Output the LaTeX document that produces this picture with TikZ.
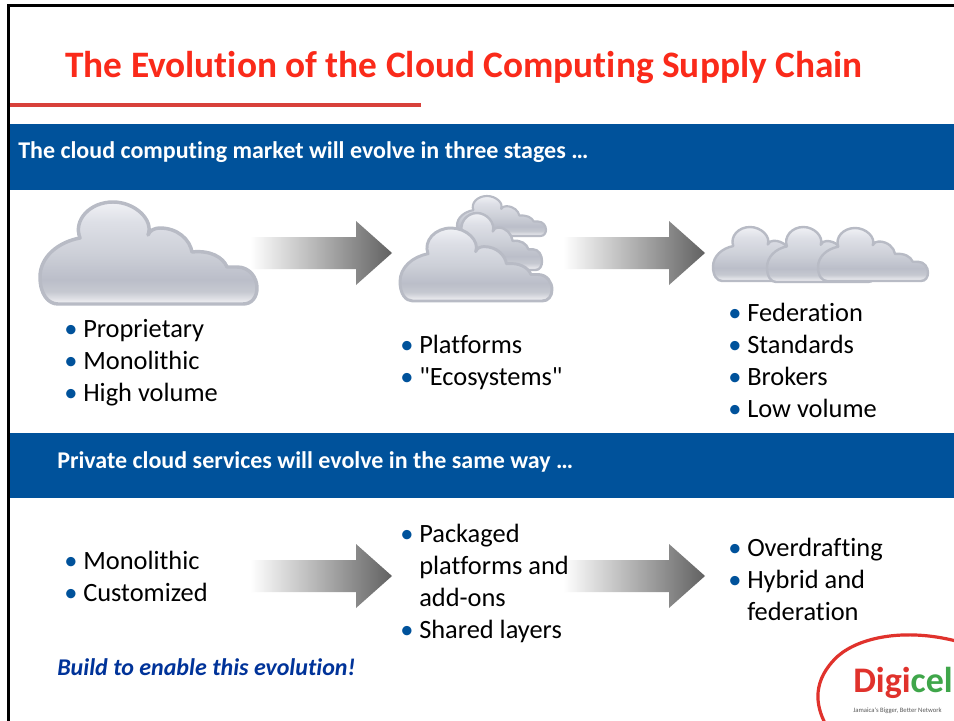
\documentclass[tikz,border=0pt]{standalone}
\usepackage{fontspec}
\setmainfont[Ligatures={NoCommon,TeXOff}]{Carlito}
\usetikzlibrary{calc}
\definecolor{barblue}{HTML}{00529B}
\definecolor{titlered}{HTML}{FA2A1A}
\definecolor{rulered}{HTML}{D8413A}
\definecolor{cloudedge}{HTML}{B8BBC5}
\definecolor{logored}{HTML}{E0322C}
\definecolor{logogreen}{HTML}{3FA64A}
\definecolor{buildblue}{HTML}{003399}
\definecolor{cs0}{HTML}{ECECF0}
\definecolor{cs1}{HTML}{C6C9D1}
\definecolor{cs2}{HTML}{BBBEC9}
\definecolor{cs3}{HTML}{CDD0D8}
\definecolor{cs4}{HTML}{DDDFE6}
\definecolor{cs5}{HTML}{F0F1F5}
\pgfdeclareverticalshading{cloudfill}{100bp}{
  color(0bp)=(cs0);
  color(26bp)=(cs0);
  color(31bp)=(cs1);
  color(37bp)=(cs2);
  color(50bp)=(cs3);
  color(65bp)=(cs4);
  color(75bp)=(cs5);
  color(100bp)=(cs5)}
\tikzset{
  cloudshape/.style={draw=cloudedge,shading=cloudfill,line join=round},
  bar/.style={fill=barblue,draw=none},
  bartext/.style={font=\fontsize{18}{22}\selectfont\bfseries,text=white,anchor=base west,inner sep=0pt},
  bodytext/.style={font=\fontsize{19.8}{24}\selectfont,text=black,anchor=base west,inner sep=0pt},
  dot/.style={font=\fontsize{19.8}{24}\selectfont,text=barblue,anchor=base west,inner sep=0pt},
  flowarrow/.style={left color=white,right color=black!62,draw=none,shading angle=90}
}
\newcommand{\cloudat}[5]{%
  \begin{scope}[shift={(#1,#2)},xscale=#3/217,yscale=#4/102]
    \path[cloudshape,line width=#5pt] (18,102) -- (203,102)
      .. controls (212,102) and (217,95) .. (217,86)
      .. controls (217,76) and (210,65) .. (197,65) -- (187,65)
      .. controls (183,55) and (170,48) .. (152,50)
      .. controls (150,38) and (138,26) .. (120,26)
      .. controls (115,26) and (110,28) .. (108,33)
      .. controls (114,18) and (95,0) .. (73,0)
      .. controls (50,0) and (33,18) .. (40,36)
      .. controls (18,40) and (0,55) .. (0,75)
      .. controls (0,92) and (8,102) .. (18,102) -- cycle;
  \end{scope}}
\newcommand{\flowat}[2]{%
  \path[flowarrow] (#1,#2-16) -- (#1+106,#2-16) -- (#1+106,#2-32) -- (#1+142,#2)
    -- (#1+106,#2+32) -- (#1+106,#2+16) -- (#1,#2+16) -- cycle;}
\newcommand{\itemat}[4]{%
  \node[dot] (#1d) at (#2,#3) {•};
  \node[bodytext] (#1) at (#2+19,#3) {#4};}
\newcommand{\lineat}[4]{%
  \node[bodytext] (#1) at (#2+19,#3) {#4};}
\begin{document}
\begin{tikzpicture}[x=0.75pt,y=-0.75pt]
\useasboundingbox (0,0) rectangle (954,721);
\clip (0,0) rectangle (954,721);
\fill[white] (0,0) rectangle (954,721);
% frame
\draw[black,line width=2.2pt] (8.5,721) -- (8.5,5.5) -- (954,5.5);
% title
\node[font=\fontsize{28}{32}\selectfont\bfseries,text=titlered,anchor=base west,inner sep=0pt] (title) at (65,77.8) {The Evolution of the Cloud Computing Supply Chain};
\fill[rulered] (10,103) rectangle (421,107);
% bars
\path[bar] (10,124) rectangle (954,190);
\node[bartext] (bar1) at (18,158.5) {The cloud computing market will evolve in three stages …};
\path[bar] (10,433) rectangle (954,498);
\node[bartext] (bar2) at (57,468.5) {Private cloud services will evolve in the same way …};
% clouds
\cloudat{40}{202}{217}{102}{2.6}
\cloudat{457}{196}{89}{40}{1.6}
\cloudat{444}{213}{98}{57}{1.8}
\cloudat{400}{228}{152}{73}{2.2}
\cloudat{713}{227}{110}{54}{1.8}
\cloudat{767}{227}{108}{55}{1.8}
\cloudat{818}{228}{110}{53}{1.8}
% arrows
\flowat{250}{253}
\flowat{563}{253}
\flowat{250}{576}
\flowat{563}{576}
% top texts
\itemat{a1}{64}{337}{Proprietary}
\itemat{a2}{64}{369}{Monolithic}
\itemat{a3}{64}{401}{High volume}
\itemat{b1}{400}{353}{Platforms}
\itemat{b2}{400}{385}{"Ecosystems"}
\itemat{c1}{728}{321}{Federation}
\itemat{c2}{728}{353}{Standards}
\itemat{c3}{728}{385}{Brokers}
\itemat{c4}{728}{417}{Low volume}
% bottom texts
\itemat{d1}{64}{569}{Monolithic}
\itemat{d2}{64}{601}{Customized}
\itemat{e1}{400}{542}{Packaged}
\lineat{e2}{400}{574}{platforms and}
\lineat{e3}{400}{606}{add-ons}
\itemat{e4}{400}{638}{Shared layers}
\itemat{f1}{728}{556}{Overdrafting}
\itemat{f2}{728}{588}{Hybrid and}
\lineat{f3}{728}{620}{federation}
\node[font=\fontsize{18}{22}\selectfont\bfseries\itshape,text=buildblue,anchor=base west,inner sep=0pt] (build) at (57,675.5) {Build to enable this evolution!};
% logo
\draw[logored,line width=2.4pt] (826,725) .. controls (815,705) and (812,680) .. (838,656)
  .. controls (860,637) and (905,628) .. (956,641);
\node[font=\fontsize{27}{30}\selectfont\bfseries,anchor=base west,inner sep=0pt] (logo) at (853,692) {\textcolor{logored}{Digi}\textcolor{logogreen}{cel}};
\node[font=\fontsize{5}{6}\selectfont,text=black!65,anchor=base west,inner sep=0pt] (tag) at (853,712) {Jamaica's Bigger, Better Network};
\end{tikzpicture}
\end{document}
